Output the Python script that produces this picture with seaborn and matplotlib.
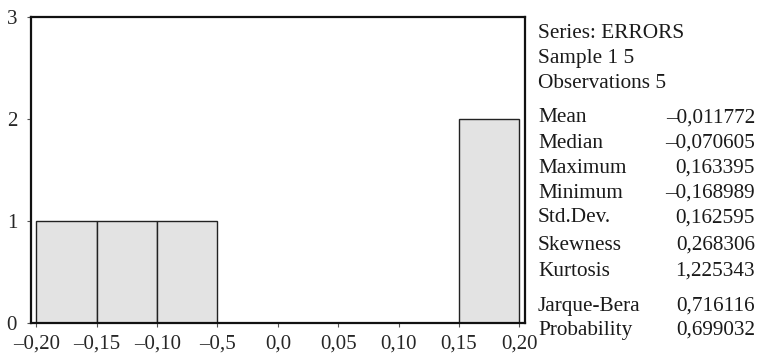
import matplotlib
matplotlib.use("Agg")
import matplotlib.pyplot as plt
import seaborn as sns
import numpy as np

# ---- data ----
bin_edges = [-0.20, -0.15, -0.10, -0.05, 0.0, 0.05, 0.10, 0.15, 0.20]
bin_counts = [1, 1, 1, 0, 0, 0, 0, 2]
xtick_values = [-0.20, -0.15, -0.10, -0.05, 0.0, 0.05, 0.10, 0.15, 0.20]
xtick_labels = ["–0,20", "–0,15", "–0,10", "–0,5", "0,0", "0,05", "0,10", "0,15", "0,20"]
ytick_values = [0, 1, 2, 3]
header_lines = ["Series: ERRORS", "Sample 1 5", "Observations 5"]
stat_names = ["Mean", "Median", "Maximum", "Minimum", "Std.Dev.", "Skewness",
              "Kurtosis", "Jarque-Bera", "Probability"]
stat_values = ["–0,011772", "–0,070605", "0,163395", "–0,168989", "0,162595",
               "0,268306", "1,225343", "0,716116", "0,699032"]

sns.set_style("white")
plt.rcParams["font.family"] = ["Liberation Serif", "DejaVu Serif"]

W, H = 758, 354
fig = plt.figure(figsize=(W / 100, H / 100), dpi=100)
ax = fig.add_axes([31 / W, 1 - 323 / H, (525 - 31) / W, (323 - 17) / H])

centers = [(bin_edges[i] + bin_edges[i + 1]) / 2 for i in range(len(bin_counts))]
sns.histplot(x=centers, weights=bin_counts, bins=bin_edges, ax=ax,
             color="#e3e3e3", edgecolor="#222222", linewidth=1.0, alpha=1.0)

ax.set_xlim(-0.2045, 0.2048)
ax.set_ylim(0, 3)
ax.set_xticks(xtick_values)
ax.set_xticklabels(xtick_labels)
ax.set_yticks(ytick_values)
ax.set_xlabel("")
ax.set_ylabel("")
ax.tick_params(axis="x", labelsize=15, length=3, width=0.8, color="#555555",
               direction="out", pad=5, bottom=True)
ax.tick_params(axis="y", labelsize=15, length=3, width=0.8, color="#555555",
               direction="out", pad=7, left=True)
for lbl in ax.get_yticklabels():
    lbl.set_verticalalignment("center_baseline")
for s in ax.spines.values():
    s.set_visible(True)
    s.set_linewidth(1.6)
    s.set_color("#111111")

def fy(py):
    return 1 - py / H

FS = 15.3
header_y = [30, 55, 80]
for t, py in zip(header_lines, header_y):
    fig.text(538 / W, fy(py + 3), t, fontsize=FS, ha="left", va="center", color="#1a1a1a")

stat_y = [115, 140, 165, 190, 215, 242, 268, 303, 327]
for n, v, py in zip(stat_names, stat_values, stat_y):
    fig.text(538 / W, fy(py + 3), n, fontsize=FS, ha="left", va="center", color="#1a1a1a")
    fig.text(755 / W, fy(py + 3), v, fontsize=FS, ha="right", va="center", color="#1a1a1a")

fig.savefig("out.png", dpi=100)
